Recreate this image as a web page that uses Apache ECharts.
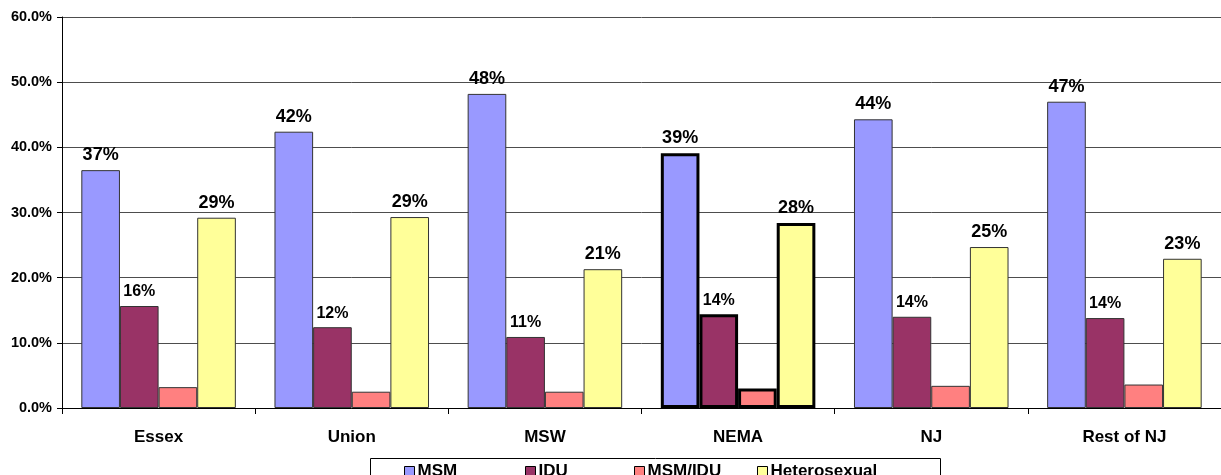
<!DOCTYPE html>
<html>
<head>
<meta charset="utf-8">
<script src="https://cdn.jsdelivr.net/npm/echarts@6/dist/echarts.min.js"></script>
<style>
  html, body { margin: 0; padding: 0; background: #fff; }
  #chart { width: 1221px; height: 475px; }
</style>
</head>
<body>
<div id="chart"></div>
<script>
// categories and series values (percent)
var categories = ['Essex', 'Union', 'MSW', 'NEMA', 'NJ', 'Rest of NJ'];
var msm = [36.5, 42.4, 48.2, 39.1, 44.3, 47.0];
var idu = [15.65, 12.4, 10.9, 14.4, 14.0, 13.8];
var msmIdu = [3.2, 2.5, 2.5, 3.0, 3.4, 3.6];
var hetero = [29.2, 29.3, 21.3, 28.4, 24.7, 22.9];
var highlight = 'NEMA';

var font = '"Liberation Sans", Arial, sans-serif';

function items(values) {
  return values.map(function (v, i) {
    if (categories[i] === highlight) {
      return { value: v, itemStyle: { borderColor: '#000', borderWidth: 3 } };
    }
    return v;
  });
}

function bigLabel(size) {
  return {
    show: true,
    position: 'top',
    distance: 6,
    color: '#000',
    fontFamily: font,
    fontWeight: 'bold',
    fontSize: size,
    formatter: function (p) { return Math.round(p.value) + '%'; }
  };
}

function legendAt(name, left) {
  return {
    data: [name],
    left: left,
    top: 463,
    itemWidth: 10,
    itemHeight: 10,
    itemGap: 0,
    padding: 0,
    icon: 'rect',
    itemStyle: { borderColor: '#000', borderWidth: 1 },
    textStyle: { color: '#000', fontFamily: font, fontWeight: 'bold', fontSize: 17, padding: [0, 0, 0, -2] }
  };
}

var chart = echarts.init(document.getElementById('chart'));

chart.setOption({
  animation: false,
  color: ['#9999FF', '#993366', '#FF8080', '#FFFF99'],
  grid: { left: 62, top: 17, width: 1165, bottom: 67 },
  legend: [
    legendAt('MSM', 404),
    legendAt('IDU', 525),
    legendAt('MSM/IDU', 634),
    legendAt('Heterosexual', 757)
  ],
  graphic: [{
    type: 'rect',
    shape: { x: 370.5, y: 458.5, width: 570, height: 30 },
    style: { fill: 'none', stroke: '#000', lineWidth: 1 },
    silent: true,
    z: -1
  }],
  xAxis: {
    type: 'category',
    data: categories,
    axisLine: { lineStyle: { color: '#000', width: 1 } },
    axisTick: { show: true, length: 6, lineStyle: { color: '#000' } },
    axisLabel: { color: '#000', fontFamily: font, fontWeight: 'bold', fontSize: 17, margin: 21 }
  },
  yAxis: {
    type: 'value',
    min: 0,
    max: 60,
    interval: 10,
    axisLine: { show: true, lineStyle: { color: '#000', width: 1 } },
    axisTick: { show: true, length: 5, lineStyle: { color: '#000' } },
    splitLine: { lineStyle: { color: '#4d4d4d', width: 1 } },
    axisLabel: {
      color: '#000', fontFamily: font, fontWeight: 'bold', fontSize: 14.5, margin: 10,
      formatter: function (v) { return v.toFixed(1) + '%'; }
    }
  },
  series: [
    {
      name: 'MSM', type: 'bar', data: items(msm),
      barGap: '0%', barCategoryGap: '20%',
      itemStyle: { borderColor: '#333', borderWidth: 1 },
      label: bigLabel(18)
    },
    {
      name: 'IDU', type: 'bar', data: items(idu),
      itemStyle: { borderColor: '#333', borderWidth: 1 },
      label: bigLabel(16)
    },
    {
      name: 'MSM/IDU', type: 'bar', data: items(msmIdu),
      itemStyle: { borderColor: '#333', borderWidth: 1 }
    },
    {
      name: 'Heterosexual', type: 'bar', data: items(hetero),
      itemStyle: { borderColor: '#333', borderWidth: 1 },
      label: bigLabel(18)
    }
  ]
});
</script>
</body>
</html>
